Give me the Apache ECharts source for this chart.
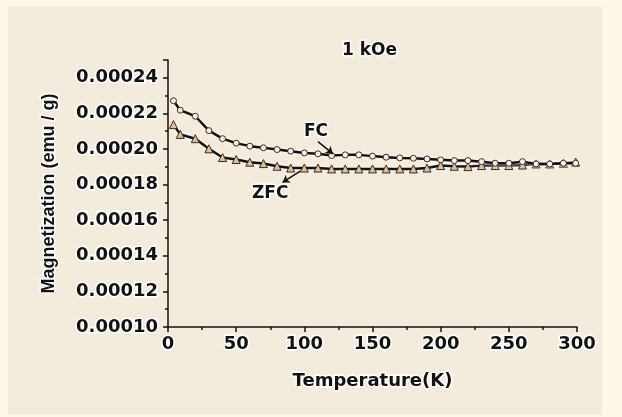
<!DOCTYPE html>
<html>
<head>
<meta charset="utf-8">
<script src="https://cdn.jsdelivr.net/npm/echarts@6/dist/echarts.min.js"></script>
<style>
    html, body { margin: 0; padding: 0; background: #fcf7e9; }
    #panel { position: absolute; left: 8px; top: 7px; width: 594px; height: 408px; background: #f3ecdd; }
    #chart { position: absolute; left: 0; top: 0; width: 622px; height: 417px; }
</style>
</head>
<body>
<div id="panel"></div>
<div id="chart"></div>
<script>
// temperature (K) of each measured point
const temps = [4, 9, 20, 30, 40, 50, 60, 70, 80, 90, 100, 110, 120, 130, 140, 150,
    160, 170, 180, 190, 200, 210, 220, 230, 240, 250, 260, 270, 280, 290, 299];
// magnetization, in units of 1e-4 emu/g
const fcValues = [2.271, 2.218, 2.184, 2.103, 2.058, 2.033, 2.016, 2.007, 1.997, 1.988,
    1.978, 1.973, 1.963, 1.967, 1.967, 1.960, 1.954, 1.950, 1.948, 1.944, 1.939, 1.935,
    1.935, 1.929, 1.920, 1.920, 1.929, 1.916, 1.916, 1.920, 1.920];
const zfcValues = [2.137, 2.082, 2.058, 2.001, 1.952, 1.941, 1.926, 1.918, 1.903, 1.893,
    1.893, 1.893, 1.888, 1.888, 1.888, 1.888, 1.888, 1.888, 1.888, 1.893, 1.907, 1.903,
    1.901, 1.907, 1.907, 1.907, 1.910, 1.916, 1.916, 1.920, 1.926];
const yTicks = ["0.00010", "0.00012", "0.00014", "0.00016", "0.00018", "0.00020", "0.00022", "0.00024"];

const font = "DejaVu Sans";
const halo = { textBorderColor: "#fff", textBorderWidth: 3 };

function pairs(values) {
    return temps.map((t, i) => [t, values[i] * 1e-4]);
}

function getOption() {
    const lineStyle = {
        color: "#111",
        width: 2.5,
        shadowColor: "#fff",
        shadowBlur: 4,
    };
    return {
        animation: false,
        title: {
            text: "1 kOe",
            left: 337,
            top: 37,
            textStyle: Object.assign({ fontFamily: font, fontSize: 17, fontWeight: "bold", color: "#111" }, halo),
        },
        grid: { left: 168, right: 45, top: 60, bottom: 90 },
        xAxis: {
            type: "value",
            min: 0,
            max: 300,
            interval: 50,
            name: "Temperature(K)",
            nameLocation: "middle",
            nameGap: 45,
            nameTextStyle: Object.assign({ fontFamily: font, fontSize: 18, fontWeight: "bold", color: "#111" }, halo),
            axisLine: { lineStyle: { color: "#111", width: 1.5 } },
            axisTick: { length: 5, lineStyle: { color: "#111", width: 1.5 } },
            minorTick: { show: true, splitNumber: 2, length: 3, lineStyle: { color: "#111", width: 1.5 } },
            splitLine: { show: false },
            axisLabel: Object.assign({ fontFamily: font, fontSize: 18, fontWeight: "bold", color: "#111", margin: 8 }, halo),
        },
        yAxis: {
            type: "value",
            min: 0.0001,
            max: 0.00025,
            interval: 0.00002,
            name: "Magnetization (emu / g)",
            nameLocation: "middle",
            nameRotate: 90,
            nameGap: 110,
            nameTextStyle: Object.assign({ fontFamily: "Liberation Sans", fontSize: 18, fontWeight: "bold", color: "#111" }, halo),
            axisLine: { show: true, lineStyle: { color: "#111", width: 1.5 } },
            axisTick: { length: 5, lineStyle: { color: "#111", width: 1.5 } },
            minorTick: { show: true, splitNumber: 2, length: 3, lineStyle: { color: "#111", width: 1.5 } },
            splitLine: { show: false },
            axisLabel: Object.assign({
                fontFamily: font, fontSize: 18, fontWeight: "bold", color: "#111", margin: 10,
                formatter: (v) => {
                    const idx = Math.round((v - 0.0001) / 0.00002);
                    return v > 0.000241 ? "" : yTicks[idx];
                },
            }, halo),
        },
        series: [
            {
                name: "FC",
                type: "line",
                data: pairs(fcValues),
                symbol: "circle",
                symbolSize: 6,
                itemStyle: { color: "#f7f1e6", borderColor: "#3a2a20", borderWidth: 1 },
                lineStyle: lineStyle,
                z: 3,
                markLine: {
                    silent: true,
                    symbol: ["none", "arrow"],
                    symbolSize: 7,
                    lineStyle: { color: "#111", width: 1.5, type: "solid" },
                    label: { show: false },
                    data: [
                        [{ coord: [110, 0.0002041] }, { coord: [121, 0.0001973] }],
                        [{ coord: [97, 0.0001876] }, { coord: [84, 0.0001812] }],
                    ],
                },
                markPoint: {
                    symbol: "circle",
                    symbolSize: 0,
                    label: Object.assign({ fontFamily: font, fontSize: 17, fontWeight: "bold", color: "#111", formatter: "{b}" }, halo),
                    data: [
                        { name: "FC", coord: [108.5, 0.0002097] },
                        { name: "ZFC", coord: [75, 0.0001752] },
                    ],
                },
            },
            {
                name: "ZFC",
                type: "line",
                data: pairs(zfcValues),
                symbol: "triangle",
                symbolSize: 8,
                itemStyle: { color: "#dcbf9a", borderColor: "#3a2a20", borderWidth: 1 },
                lineStyle: lineStyle,
                z: 2,
            },
        ],
    };
}

const myChart = echarts.init(document.getElementById("chart"), null, { renderer: "canvas" });
myChart.setOption(getOption());
</script>
</body>
</html>
